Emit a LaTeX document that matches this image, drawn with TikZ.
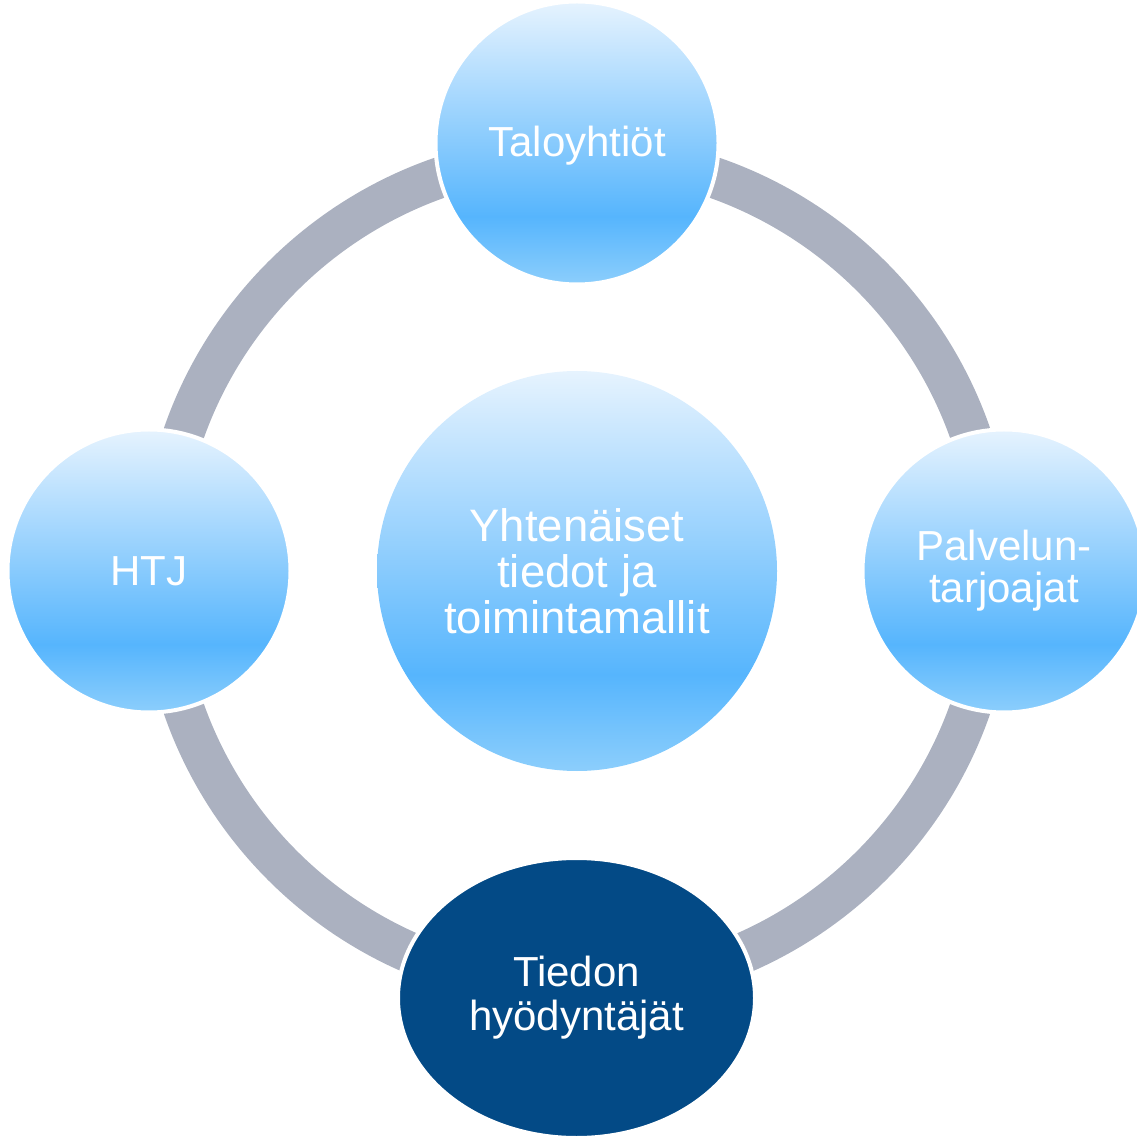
\documentclass[tikz,border=0pt]{standalone}
\usepackage{fontspec}
\setmainfont{Liberation Sans}
\usetikzlibrary{shapes.geometric}
\definecolor{gT}{RGB}{230,243,254}
\definecolor{gM}{RGB}{86,181,253}
\definecolor{gB}{RGB}{140,206,252}
\definecolor{ringgray}{RGB}{171,177,192}
\definecolor{navy}{RGB}{3,74,134}
\pgfdeclareverticalshading{bluegrad}{100bp}{color(0bp)=(gB); color(25bp)=(gB); color(37bp)=(gM); color(75bp)=(gT); color(100bp)=(gT)}
\tikzset{
  bubble/.style={circle, shading=bluegrad, draw=white, line width=4pt, inner sep=0pt,
    text=white, align=center, font=\fontsize{42}{42}\selectfont},
  hubbubble/.style={circle, shading=bluegrad, inner sep=0pt,
    text=white, align=center, font=\fontsize{45.5}{46}\selectfont},
  darkbubble/.style={ellipse, fill=navy, draw=white, line width=4pt, inner sep=0pt,
    text=white, align=center, font=\fontsize{42}{44}\selectfont},
  ringarc/.style={draw=ringgray, line width=41pt}
}
\begin{document}
\begin{tikzpicture}[x=1pt,y=1pt]
\useasboundingbox (0,0) rectangle (1137,1136);
\coordinate (hub) at (577,565);
% ring segments between the outer nodes
\draw[ringarc] (hub) ++(90:416.5) arc[start angle=90, end angle=0, radius=416.5];
\draw[ringarc] (hub) ++(0:416.5) arc[start angle=0, end angle=-90, radius=416.5];
\draw[ringarc] (hub) ++(-90:416.5) arc[start angle=-90, end angle=-180, radius=416.5];
\draw[ringarc] (hub) ++(180:416.5) arc[start angle=180, end angle=90, radius=416.5];
% nodes
\node[hubbubble, minimum size=400pt] (core) at (hub) {Yhtenäiset\\tiedot ja\\toimintamallit};
\node[bubble, minimum size=283pt] (taloy) at (577,993) {\raisebox{-3pt}[\height][\depth]{Taloyhtiöt}};
\node[bubble, minimum size=283pt] (palv) at (1004,565) {Palvelun-\\tarjoajat};
\node[bubble, minimum size=283pt] (htj) at (149,565) {HTJ};
\node[darkbubble, minimum width=357pt, minimum height=280pt] (tied) at (576.5,138) {Tiedon\\hyödyntäjät};
\end{tikzpicture}
\end{document}
